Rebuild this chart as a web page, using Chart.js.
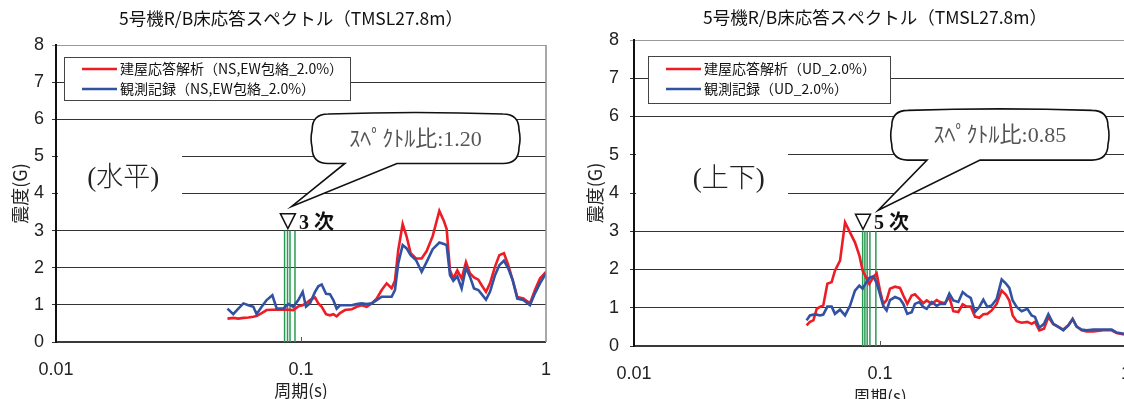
<!DOCTYPE html>
<html>
<head>
<meta charset="utf-8">
<script src="https://cdn.jsdelivr.net/npm/chart.js@4/dist/chart.umd.min.js"></script>
<style>
html, body { margin: 0; padding: 0; background: #fff; overflow: hidden; width: 1124px; height: 399px; }
#chartH { position: absolute; left: 0; top: 0; }
#chartV { position: absolute; left: 560px; top: 0; }
</style>
</head>
<body>
<canvas id="chartH" width="568" height="399"></canvas>
<canvas id="chartV" width="600" height="410"></canvas>
<script>
const RED = '#ee1d25';
const BLUE = '#3152a3';
const GREEN = '#2b9a55';

const chartTitle = '5号機R/B床応答スペクトル（TMSL27.8m）';
const xTicks = [0.01, 0.1, 1];
const yTicks = [0, 1, 2, 3, 4, 5, 6, 7, 8];
const modeTop = 3;

// horizontal (NS,EW envelope)
const periodsH = [0.0501, 0.0529, 0.0555, 0.0582, 0.0610, 0.0639, 0.0659, 0.0691, 0.0724, 0.0764,
  0.0796, 0.0847, 0.0888, 0.0930, 0.0975, 0.1016, 0.1048, 0.1088, 0.1141, 0.1177,
  0.1215, 0.1265, 0.1313, 0.1355, 0.1398, 0.1443, 0.1512, 0.1610, 0.1687, 0.1768,
  0.1854, 0.1943, 0.2036, 0.2135, 0.2237,
  0.2344, 0.2418, 0.2495, 0.2600, 0.2699, 0.2803, 0.2946, 0.3108, 0.3258, 0.3447,
  0.3670, 0.3834, 0.3931, 0.4056, 0.4185, 0.4345, 0.4526, 0.4714, 0.4895, 0.5083,
  0.5294, 0.5463, 0.5690, 0.5908, 0.6193, 0.6450, 0.6736, 0.7017, 0.7309, 0.7637,
  0.8081, 0.8603, 0.9015, 0.9451, 1.0];
const analysisH = [0.63, 0.65, 0.63, 0.65, 0.66, 0.68, 0.70, 0.78, 0.86, 0.87,
  0.87, 0.88, 0.87, 0.86, 0.96, 0.99, 1.04, 1.13, 1.20, 1.04,
  0.95, 0.75, 0.72, 0.75, 0.69, 0.78, 0.86, 0.88, 0.95, 0.99,
  0.95, 1.04, 1.17, 1.40, 1.58,
  1.45, 1.65, 2.48, 3.18, 2.84, 2.39, 2.25, 2.25, 2.45, 2.85,
  3.53, 3.25, 3.04, 1.93, 1.71, 1.93, 1.71, 2.15, 1.85, 1.74,
  1.68, 1.53, 1.35, 1.58, 2.03, 2.34, 2.39, 2.07, 1.67, 1.21,
  1.17, 1.04, 1.40, 1.71, 1.89];
const observedH = [0.90, 0.75, 0.90, 1.04, 0.99, 0.95, 0.75, 0.95, 1.13, 1.26,
  0.90, 0.90, 1.02, 0.95, 1.13, 1.35, 0.95, 1.04, 1.35, 1.50,
  1.55, 1.30, 1.29, 1.13, 0.90, 0.99, 0.99, 0.99, 1.02, 1.04,
  1.02, 1.04, 1.13, 1.22, 1.22,
  1.22, 1.40, 2.12, 2.61, 2.52, 2.34, 2.21, 1.89, 2.16, 2.50,
  2.68, 2.64, 2.61, 1.80, 1.65, 1.77, 1.44, 2.00, 1.76, 1.44,
  1.40, 1.29, 1.14, 1.35, 1.80, 2.07, 2.19, 1.98, 1.67, 1.17,
  1.13, 0.99, 1.31, 1.58, 1.85];
const modesH = [0.0857, 0.0881, 0.0902, 0.0945];
const legendH = ['建屋応答解析（NS,EW包絡_2.0%）', '観測記録（NS,EW包絡_2.0%）'];

// vertical (UD)
const periodsV = [0.0503, 0.0519, 0.0536, 0.0553, 0.0570, 0.0588, 0.0611, 0.0636, 0.0656, 0.0688,
  0.0721, 0.0755, 0.0791, 0.0824, 0.0850, 0.0877, 0.0905, 0.0939, 0.0969, 0.1000,
  0.1031, 0.1064, 0.1098, 0.1151, 0.1206, 0.1244, 0.1291, 0.1345, 0.1387, 0.1445,
  0.1500, 0.1548, 0.1622, 0.1700,
  0.1753, 0.1837, 0.1913, 0.1986, 0.2082, 0.2168, 0.2251, 0.2337, 0.2433, 0.2534,
  0.2630, 0.2731, 0.2844, 0.2980, 0.3123, 0.3252, 0.3355, 0.3462, 0.3594, 0.3766,
  0.3971, 0.4135, 0.4266, 0.4443, 0.4642, 0.4835, 0.5066, 0.5308, 0.5561, 0.5828,
  0.6068, 0.6298, 0.6600, 0.6919, 0.7366, 0.8091, 0.8743, 0.9164, 0.9816];
const analysisV = [0.54, 0.63, 0.67, 0.97, 1.02, 1.06, 1.63, 1.67, 1.97, 2.23,
  3.23, 2.97, 2.71, 2.37, 1.97, 1.80, 1.62, 1.80, 1.90, 1.45,
  1.10, 1.20, 1.50, 1.55, 1.52, 1.32, 1.10, 1.32, 1.35, 1.23,
  1.12, 1.19, 1.10, 1.20,
  1.15, 1.12, 1.28, 0.91, 0.89, 1.09, 1.03, 1.03, 0.77, 0.74,
  0.83, 0.84, 0.93, 1.10, 1.45, 1.34, 1.19, 0.80, 0.65, 0.61,
  0.63, 0.58, 0.63, 0.41, 0.45, 0.76, 0.57, 0.50, 0.43, 0.54,
  0.71, 0.51, 0.41, 0.38, 0.38, 0.41, 0.41, 0.34, 0.30];
const observedV = [0.67, 0.80, 0.82, 0.82, 0.80, 0.82, 1.03, 1.03, 0.84, 0.95,
  0.80, 1.05, 1.45, 1.58, 1.50, 1.65, 1.78, 1.82, 1.65, 1.35,
  1.05, 0.93, 1.20, 1.28, 1.23, 1.10, 0.84, 0.88, 1.10, 1.15,
  1.02, 0.97, 1.15, 1.05,
  1.10, 1.10, 1.37, 1.19, 1.15, 1.41, 1.32, 1.26, 0.89, 1.02,
  1.21, 1.02, 1.06, 1.23, 1.74, 1.63, 1.52, 1.19, 1.02, 0.91,
  0.97, 0.80, 0.76, 0.48, 0.58, 0.83, 0.58, 0.50, 0.41, 0.54,
  0.70, 0.51, 0.43, 0.41, 0.43, 0.43, 0.43, 0.35, 0.32];
const modesV = [0.0850, 0.0868, 0.0887, 0.0910, 0.0962];
const legendV = ['建屋応答解析（UD_2.0%）', '観測記録（UD_2.0%）'];

const TICK_FONT = { family: "'Liberation Sans Narrow', 'Liberation Sans', sans-serif", size: 18 };
const JP = "'Noto Sans CJK JP', sans-serif";
const SERIF_JP = "'Liberation Serif', 'Noto Sans CJK JP', serif";

function bubblePath(ctx, l, t, r, b, base1, base2, tipX, tipY, rad) {
  ctx.beginPath();
  ctx.moveTo(l + rad, t);
  ctx.quadraticCurveTo((l + r) / 2, t - 3, r - rad, t);
  ctx.quadraticCurveTo(r, t, r, t + rad);
  ctx.quadraticCurveTo(r + 2, (t + b) / 2, r, b - rad);
  ctx.quadraticCurveTo(r, b, r - rad, b);
  ctx.lineTo(base2, b);
  ctx.lineTo(tipX, tipY);
  ctx.lineTo(base1, b);
  ctx.lineTo(l + rad, b);
  ctx.quadraticCurveTo(l, b, l, b - rad);
  ctx.quadraticCurveTo(l - 2, (t + b) / 2, l, t + rad);
  ctx.quadraticCurveTo(l, t, l + rad, t);
  ctx.closePath();
}

function decor(spec) {
  return {
    id: 'decor',
    beforeDatasetsDraw(chart) {
      const { ctx, chartArea: a, scales: { x, y } } = chart;
      // white patch behind the region label
      const m = spec.region;
      ctx.save();
      ctx.fillStyle = '#fff';
      const mx0 = a.left + 2, mx1 = x.getPixelForValue(m.maskTo);
      const my0 = y.getPixelForValue(m.maskTop), my1 = y.getPixelForValue(m.maskBottom);
      ctx.fillRect(mx0, my0, mx1 - mx0, my1 - my0);
      ctx.restore();
    },
    afterDatasetsDraw(chart) {
      const { ctx, chartArea: a, scales: { x, y } } = chart;
      ctx.save();
      // right frame + small inner tick at 0.1
      ctx.strokeStyle = '#8c8c8c';
      ctx.lineWidth = 1.5;
      ctx.beginPath();
      ctx.moveTo(a.right, a.top);
      ctx.lineTo(a.right, a.bottom);
      ctx.stroke();
      const p01 = x.getPixelForValue(0.1);
      ctx.strokeStyle = '#555';
      ctx.lineWidth = 1;
      ctx.beginPath();
      ctx.moveTo(p01 + 0.5, a.bottom);
      ctx.lineTo(p01 + 0.5, a.bottom - 5);
      ctx.stroke();

      // region label
      const m = spec.region;
      ctx.fillStyle = '#222';
      ctx.font = '300 27px ' + SERIF_JP;
      ctx.textAlign = 'center';
      ctx.textBaseline = 'middle';
      ctx.fillText(m.text, x.getPixelForValue(m.at[0]), y.getPixelForValue(m.at[1]));

      // callout bubble
      const c = spec.callout;
      const l = x.getPixelForValue(c.box[0]), r = x.getPixelForValue(c.box[1]);
      const t = y.getPixelForValue(c.box[2]), b = y.getPixelForValue(c.box[3]);
      bubblePath(ctx, l, t, r, b, x.getPixelForValue(c.base[0]), x.getPixelForValue(c.base[1]),
        x.getPixelForValue(c.tip[0]), y.getPixelForValue(c.tip[1]), 16);
      ctx.fillStyle = '#fff';
      ctx.fill();
      ctx.strokeStyle = '#111';
      ctx.lineWidth = 1.6;
      ctx.stroke();
      ctx.fillStyle = '#555';
      ctx.font = '22px ' + SERIF_JP;
      ctx.fillText(c.text, (l + r) / 2, (t + b) / 2 + 1);

      // mode marker
      const k = spec.mark;
      const kx = x.getPixelForValue(k.period), ky = y.getPixelForValue(modeTop) - 2;
      ctx.beginPath();
      ctx.moveTo(kx - 7.5, ky - 15);
      ctx.lineTo(kx + 7.5, ky - 15);
      ctx.lineTo(kx, ky);
      ctx.closePath();
      ctx.fillStyle = '#fff';
      ctx.fill();
      ctx.strokeStyle = '#111';
      ctx.lineWidth = 1.5;
      ctx.stroke();
      ctx.fillStyle = '#111';
      ctx.font = 'bold 20px ' + SERIF_JP;
      ctx.textAlign = 'left';
      ctx.textBaseline = 'alphabetic';
      ctx.fillText(k.text, kx + 11, ky);

      // legend box
      const g = spec.legendBox;
      const gx = a.left + g.dx, gy = a.top + g.dy;
      ctx.fillStyle = '#fff';
      ctx.fillRect(gx, gy, g.w, g.h);
      ctx.strokeStyle = '#444';
      ctx.lineWidth = 1;
      ctx.strokeRect(gx + 0.5, gy + 0.5, g.w, g.h);
      ctx.font = '14px ' + JP;
      ctx.textBaseline = 'middle';
      [[RED, spec.legend[0]], [BLUE, spec.legend[1]]].forEach(([col, label], i) => {
        const ly = gy + g.rows[i];
        ctx.strokeStyle = col;
        ctx.lineWidth = 2.6;
        ctx.beginPath();
        ctx.moveTo(gx + 18, ly);
        ctx.lineTo(gx + 53, ly);
        ctx.stroke();
        ctx.fillStyle = '#111';
        ctx.fillText(label, gx + 56, ly);
      });
      ctx.restore();
    },
    afterDraw(chart) {
      const { ctx } = chart;
      ctx.save();
      ctx.fillStyle = '#111';
      ctx.font = '17.5px ' + JP;
      ctx.textAlign = 'center';
      ctx.textBaseline = 'middle';
      ctx.fillText(chartTitle, spec.titleX, spec.titleY);
      ctx.restore();
    }
  };
}

function makeChart(id, spec) {
  const datasets = [
    { label: spec.legend[1], data: spec.periods.map((t, i) => ({ x: t, y: spec.observed[i] })),
      borderColor: BLUE, borderWidth: 2.6, pointRadius: 0, order: 0 },
    { label: spec.legend[0], data: spec.periods.map((t, i) => ({ x: t, y: spec.analysis[i] })),
      borderColor: RED, borderWidth: 2.6, pointRadius: 0, order: 1 }
  ];
  spec.modes.forEach(t => datasets.push({
    label: 'mode', data: [{ x: t, y: 0 }, { x: t, y: modeTop }],
    borderColor: GREEN, borderWidth: 1.5, pointRadius: 0, order: 2
  }));

  return new Chart(document.getElementById(id), {
    type: 'line',
    data: { datasets },
    options: {
      responsive: false,
      animation: false,
      events: [],
      layout: { padding: spec.padding },
      plugins: { legend: { display: false }, tooltip: { enabled: false }, title: { display: false } },
      scales: {
        x: {
          type: 'logarithmic', min: 0.01, max: 1,
          afterBuildTicks: ax => { ax.ticks = xTicks.map(v => ({ value: v })); },
          afterFit: ax => { ax.height = spec.xAxisHeight; },
          ticks: { font: TICK_FONT, color: '#222', padding: 17, maxRotation: 0, autoSkip: false, callback: v => String(v) },
          grid: { display: false, drawTicks: false },
          border: { color: '#3a3a3a', width: 2 },
          title: { display: true, text: '周期(s)', color: '#222', font: { family: JP, size: 17 }, padding: { top: 0, bottom: spec.xTitlePad } }
        },
        y: {
          min: 0, max: 8,
          afterBuildTicks: ax => { ax.ticks = yTicks.map(v => ({ value: v })); },
          afterFit: ax => { ax.width = spec.yAxisWidth; },
          ticks: { font: TICK_FONT, color: '#222', padding: spec.yTickPad },
          grid: { color: c => (c.tick && c.tick.value === 8) ? '#9a9a9a' : '#333', lineWidth: 1, tickLength: 4 },
          border: { color: '#111', width: 2 },
          title: { display: true, text: '震度(G)', color: '#222', font: { family: JP, size: 18 }, padding: { top: spec.yTitlePad, bottom: 0 } }
        }
      }
    },
    plugins: [decor(spec)]
  });
}

// the x axis reserves ~22px on the right for its last label, so the left canvas is 8px wider
makeChart('chartH', {
  periods: periodsH, analysis: analysisH, observed: observedH, modes: modesH, legend: legendH,
  padding: { top: 45, right: 9, left: 0, bottom: 0 },
  yAxisWidth: 56, xAxisHeight: 57, yTickPad: 8, yTitlePad: 9, xTitlePad: -2,
  titleX: 291, titleY: 18,
  region: { text: '(水平)', at: [0.0188, 4.38], maskTo: 0.0327, maskTop: 5.4, maskBottom: 3.6 },
  callout: { text: 'ｽﾍﾟｸﾄﾙ比:1.20', box: [0.111, 0.776, 6.14, 4.81], base: [0.151, 0.2465], tip: [0.0916, 3.65] },
  mark: { period: 0.0884, text: '3 次' },
  legendBox: { dx: 8, dy: 12, w: 286, h: 43, rows: [12, 32] }
});

makeChart('chartV', {
  periods: periodsV, analysis: analysisV, observed: observedV, modes: modesV, legend: legendV,
  padding: { top: 40, right: 34, left: 0, bottom: 0 },
  yAxisWidth: 74, xAxisHeight: 64, yTickPad: 11, yTitlePad: 24, xTitlePad: 3,
  titleX: 315, titleY: 17,
  region: { text: '(上下)', at: [0.0243, 4.33], maskTo: 0.0423, maskTop: 5.4, maskBottom: 3.6 },
  callout: { text: 'ｽﾍﾟｸﾄﾙ比:0.85', box: [0.1116, 0.845, 6.16, 4.86], base: [0.1553, 0.255], tip: [0.0984, 3.55] },
  mark: { period: 0.0853, text: '5 次' },
  legendBox: { dx: 14, dy: 16, w: 242, h: 47, rows: [13, 33] }
});
</script>
</body>
</html>
